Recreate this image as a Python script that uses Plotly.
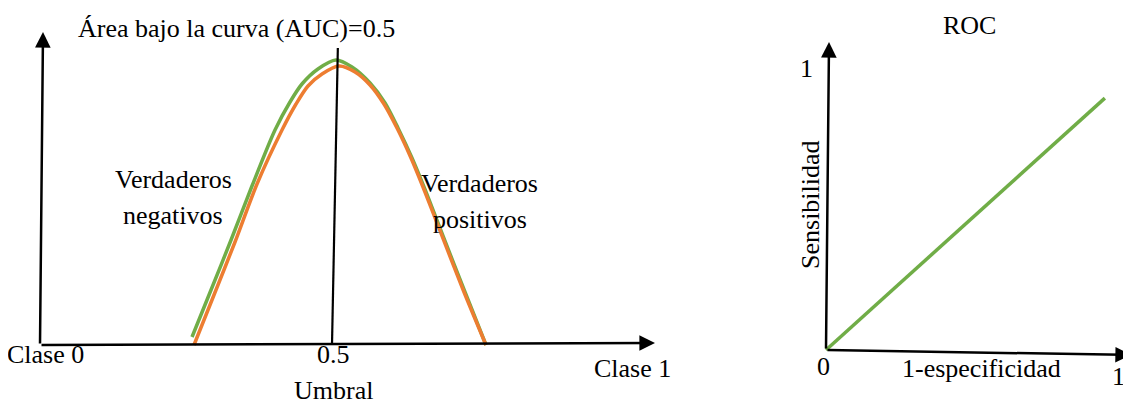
import plotly.graph_objects as go

# ---------------- data ----------------
# Left panel: score distributions along the threshold axis (Clase 0 = 0, Clase 1 = 1)
neg_x = [0.2603, 0.2928, 0.3271, 0.3630, 0.4024, 0.4281, 0.4486, 0.4760, 0.5068,
         0.5342, 0.5651, 0.5908, 0.6130, 0.6370, 0.6610, 0.6901, 0.7277, 0.7637]
neg_y = [0.0281, 0.1930, 0.3684, 0.5579, 0.7544, 0.8526, 0.9158, 0.9684, 1.0000,
         0.9754, 0.9193, 0.8491, 0.7614, 0.6561, 0.5368, 0.3825, 0.1860, 0.0000]
pos_x = [0.2637, 0.2979, 0.3339, 0.3716, 0.4144, 0.4384, 0.4589, 0.4829, 0.5120,
         0.5394, 0.5651, 0.5890, 0.6113, 0.6353, 0.6592, 0.6884, 0.7260, 0.7637]
pos_y = [0.0000, 0.1754, 0.3614, 0.5649, 0.7544, 0.8456, 0.9088, 0.9509, 0.9789,
         0.9579, 0.9123, 0.8456, 0.7614, 0.6561, 0.5368, 0.3825, 0.1860, 0.0000]
threshold_x = [0.500, 0.510]
threshold_y = [0.000, 1.042]

# Right panel: ROC line
roc_fpr = [0.0, 0.955]
roc_tpr = [0.0, 0.906]

GREEN = "#70AD47"
ORANGE = "#ED7D31"
FONT = "Liberation Serif"
FS = 26

fig = go.Figure()
fig.add_trace(go.Scatter(x=neg_x, y=neg_y, mode="lines",
                         line=dict(color=GREEN, width=3.5, shape="spline", smoothing=0.8),
                         xaxis="x", yaxis="y", hoverinfo="skip"))
fig.add_trace(go.Scatter(x=pos_x, y=pos_y, mode="lines",
                         line=dict(color=ORANGE, width=3.5, shape="spline", smoothing=0.8),
                         xaxis="x", yaxis="y", hoverinfo="skip"))
fig.add_trace(go.Scatter(x=threshold_x, y=threshold_y, mode="lines", line=dict(color="black", width=2.2),
                         xaxis="x", yaxis="y", hoverinfo="skip"))
fig.add_trace(go.Scatter(x=roc_fpr, y=roc_tpr, mode="lines", line=dict(color=GREEN, width=3.5),
                         xaxis="x2", yaxis="y2", hoverinfo="skip"))

anns = []

def arrow(xr, yr, x0, y0, x1, y1):
    anns.append(dict(xref=xr, yref=yr, axref=xr, ayref=yr, x=x1, y=y1, ax=x0, ay=y0,
                     text="", showarrow=True, arrowhead=2, arrowsize=1.25, arrowwidth=2.5,
                     arrowcolor="black", standoff=0, startstandoff=0))

def label(xr, yr, x, y, t, angle=0):
    anns.append(dict(xref=xr, yref=yr, x=x, y=y, text=t, showarrow=False, xanchor="center",
                     yanchor="middle", textangle=angle, font=dict(family=FONT, size=FS, color="black")))

# Left axes
arrow("x", "y", 0.0, 0.0, 0.00514, 1.098)
arrow("x", "y", 0.0, 0.0, 1.0531, 0.007)
# Right axes
arrow("x2", "y2", 0.0, 0.0, 0.0103, 1.108)
arrow("x2", "y2", 0.0, 0.0, 1.0445, -0.018)

# Left labels
label("x", "y", 0.337, 1.112, "Área bajo la curva (AUC)=0.5")
label("x", "y", 0.228, 0.579, "Verdaderos")
label("x", "y", 0.228, 0.456, "negativos")
label("x", "y", 0.753, 0.565, "Verdaderos")
label("x", "y", 0.753, 0.442, "positivos")
label("x", "y", 0.010, -0.035, "Clase 0")
label("x", "y", 0.502, -0.035, "0.5")
label("x", "y", 0.503, -0.158, "Umbral")
label("x", "y", 1.014, -0.084, "Clase 1")

# Right labels
label("x2", "y2", 0.493, 1.169, "ROC")
label("x2", "y2", -0.068, 1.014, "1")
label("x2", "y2", -0.055, 0.525, "Sensibilidad", angle=-90)
label("x2", "y2", -0.010, -0.061, "0")
label("x2", "y2", 0.534, -0.068, "1-especificidad")
label("x2", "y2", 1.000, -0.094, "1")

# page body has an 8px margin: the figure occupies window pixels 8..1131 x 8..404
W, H, OFF = 1123, 396, 8
ax_common = dict(visible=False, showgrid=False, zeroline=False, fixedrange=True)
fig.update_layout(
    width=W, height=H,
    margin=dict(l=0, r=0, t=0, b=0),
    paper_bgcolor="white", plot_bgcolor="white",
    showlegend=False,
    xaxis=dict(domain=[0, (680 - OFF) / W], range=[(OFF - 40) / 584, (680 - 40) / 584], **ax_common),
    yaxis=dict(domain=[0, 1], range=[(345 - 404) / 285, (345 - OFF) / 285], **ax_common),
    xaxis2=dict(domain=[(760 - OFF) / W, 1], range=[(760 - 826) / 292, (1131 - 826) / 292],
                anchor="y2", **ax_common),
    yaxis2=dict(domain=[0, 1], range=[(350 - 404) / 278, (350 - OFF) / 278], anchor="x2", **ax_common),
    annotations=anns,
)

fig.write_html("out.html")
